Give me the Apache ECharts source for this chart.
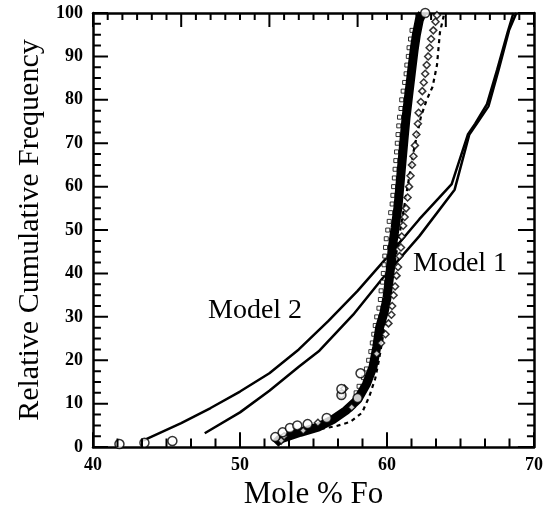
<!DOCTYPE html>
<html>
<head>
<meta charset="utf-8">
<script src="https://cdn.jsdelivr.net/npm/echarts@6/dist/echarts.min.js"></script>
<style>html,body{margin:0;padding:0;background:#fff;}#c{width:554px;height:515px;}</style>
</head>
<body>
<div id="c"></div>
<script>
// axis tick values
const xTicks = [40, 50, 60, 70];            // labelled bottom ticks
const xTopMajor = [40, 46, 52, 58, 64, 70]; // long ticks on the top frame
const yTicks = [0, 10, 20, 30, 40, 50, 60, 70, 80, 90, 100];

// Model 2 curve (upper-left)
const model2 = [[43.4,1.5],[46,5.5],[48,9],[50,12.8],[52,17],[54,22.5],[56,29],[58,36],[60,43.7],[62.2,52.5],[64.4,60.6],[65.5,72],[66.0,74.5],[66.8,79],[67.5,87],[68.2,95.5],[68.6,100]];
// Model 1 curve
const model1 = [[47.6,3.2],[50,8],[52,13],[54,18.5],[55.4,22.2],[57.7,30.5],[59.7,38.9],[62.2,48.6],[64.6,59.3],[65.6,72],[66.1,74.5],[66.9,78.5],[67.6,87],[68.3,96],[68.8,100]];
// dense filled data band
const band = [[52.4,0.8],[52.7,1.8],[54.1,3.4],[55.3,4.6],[56.3,6.3],[57.2,8.4],[58.0,10.9],[58.6,14.5],[59.05,18.5],[59.3,23],[59.5,27.6],[59.8,31],[60.0,34.4],[60.2,40],[60.35,45.7],[60.55,50.5],[60.75,55.4],[60.95,63],[61.15,70.6],[61.3,76],[61.45,80.3],[61.65,86],[61.85,91.6],[62.0,95],[62.2,98.4],[62.4,100]];
// open squares
const squares = [[57.9,12.5],[58.1,14],[58.4,16],[58.6,18],[58.75,20],[58.9,22],[59.0,24],[59.1,26],[59.2,28],[59.3,30],[59.45,32],[59.55,34],[59.6,36],[59.7,38],[59.75,40],[59.8,42],[59.85,44],[59.9,46],[59.95,48],[60.05,50],[60.15,52],[60.25,54],[60.35,56],[60.4,58],[60.45,60],[60.5,62],[60.55,64],[60.6,66],[60.65,68],[60.7,70],[60.75,72],[60.8,74],[60.85,76],[60.95,78],[61.0,80],[61.1,82],[61.2,84],[61.3,86],[61.35,88],[61.45,90],[61.5,92],[61.6,94],[61.7,96]];
// open diamonds
const diamonds = [[52.8,1.5],[53.0,2.5],[54.3,3.8],[55.3,5.6],[56.9,12],[57.1,13.5],[57.6,9.2],[59.3,21.5],[59.6,24],[59.9,26],[60.1,28.5],[60.3,30.5],[60.35,32.5],[60.45,35],[60.55,37],[60.65,39.5],[60.75,41.5],[60.85,44],[60.95,46],[61.0,48.5],[61.1,51],[61.2,53],[61.3,55],[61.4,57.5],[61.5,60],[61.6,62.5],[61.7,65],[61.8,67],[61.9,69.5],[62.0,72],[62.1,74.5],[62.15,77],[62.3,79.5],[62.4,82],[62.5,84],[62.6,86],[62.7,88],[62.8,90],[62.9,92],[63.0,94],[63.15,96],[63.3,98],[63.4,99.5]];
// open circles
const circles = [[41.8,0.7],[43.5,1.0],[45.4,1.4],[52.4,2.3],[52.9,3.4],[53.4,4.4],[53.9,5],[54.6,5.3],[55.9,6.7],[56.9,12],[56.9,13.4],[58.0,11.3],[58.2,17],[62.6,100]];
// dashed curve
const dashed = [[55.5,4.2],[56.5,4.8],[57.5,5.8],[58.3,7.9],[58.8,11.7],[59.2,15.8],[59.45,20],[59.7,25],[60.0,32],[60.4,40],[60.8,48],[61.3,58],[61.8,68],[62.3,76],[62.7,80],[63.1,83],[63.4,88],[63.6,95.5],[63.9,100]];

const FONT = '"Liberation Serif", "Times New Roman", serif';
const X0 = xTicks[0], X1 = xTicks[xTicks.length-1];
const Y0 = yTicks[0], Y1 = yTicks[yTicks.length-1];

// inward frame ticks as short broken line segments (lengths in axis units)
const tickSegs = [];
function seg(a, b) { tickSegs.push(a, b, null); }
for (let i = 0; i < xTicks.length; i++) {
  seg([xTicks[i], Y0], [xTicks[i], Y0 + 3.4]);
  if (i < xTicks.length - 1) {
    const step = (xTicks[i+1] - xTicks[i]) / 6;
    for (let k = 1; k < 6; k++) seg([xTicks[i] + k*step, Y0], [xTicks[i] + k*step, Y0 + 2.0]);
  }
}
for (let i = 0; i < xTopMajor.length; i++) {
  seg([xTopMajor[i], Y1], [xTopMajor[i], Y1 - 3.2]);
  if (i < xTopMajor.length - 1) {
    const step = (xTopMajor[i+1] - xTopMajor[i]) / 6;
    for (let k = 1; k < 6; k++) seg([xTopMajor[i] + k*step, Y1], [xTopMajor[i] + k*step, Y1 - 1.6]);
  }
}
for (let i = 0; i < yTicks.length; i++) {
  seg([X0, yTicks[i]], [X0 + 1.02, yTicks[i]]);
  seg([X1, yTicks[i]], [X1 - 1.09, yTicks[i]]);
  if (i < yTicks.length - 1) {
    const step = (yTicks[i+1] - yTicks[i]) / 4;
    for (let k = 1; k < 4; k++) {
      seg([X0, yTicks[i] + k*step], [X0 + 0.54, yTicks[i] + k*step]);
      seg([X1, yTicks[i] + k*step], [X1 - 0.48, yTicks[i] + k*step]);
    }
  }
}

const chart = echarts.init(document.getElementById('c'), null, {renderer: 'canvas'});
const axisLineStyle = {color: '#000', width: 2.5};
function frameAxis(pos, min, max, interval, showLabel, margin) {
  return {
    type: 'value', position: pos, min: min, max: max, interval: interval,
    axisLine: {show: true, onZero: false, lineStyle: axisLineStyle},
    axisTick: {show: false}, minorTick: {show: false},
    splitLine: {show: false}, minorSplitLine: {show: false},
    axisLabel: {show: showLabel, color: '#000', fontFamily: FONT, fontWeight: 'bold', fontSize: 18, margin: margin}
  };
}
const xb = frameAxis('bottom', X0, X1, 10, true, 9);
xb.name = 'Mole % Fo'; xb.nameLocation = 'middle'; xb.nameGap = 26;
xb.nameTextStyle = {fontFamily: FONT, fontSize: 31, color: '#000'};
const xt = frameAxis('top', X0, X1, 10, false, 8);
const yl = frameAxis('left', Y0, Y1, 10, true, 10);
yl.name = 'Relative Cumulative Frequency'; yl.nameLocation = 'middle'; yl.nameGap = 45;
yl.nameTextStyle = {fontFamily: FONT, fontSize: 30, color: '#000'};
const yr = frameAxis('right', Y0, Y1, 10, false, 8);

chart.setOption({
  animation: false,
  backgroundColor: '#fff',
  grid: {left: 93, right: 20, top: 13, bottom: 60, containLabel: false},
  xAxis: [xb, xt],
  yAxis: [yl, yr],
  series: [
    {type: 'line', data: tickSegs, showSymbol: false, connectNulls: false, clip: false, silent: true, lineStyle: {color: '#000', width: 2}, z: 8},
    {type: 'line', data: model2, showSymbol: false, lineStyle: {color: '#000', width: 2.5}, z: 3},
    {type: 'line', data: model1, showSymbol: false, lineStyle: {color: '#000', width: 2.5}, z: 3},
    {type: 'line', data: dashed, showSymbol: false, lineStyle: {color: '#000', width: 2.2, type: [4, 4]}, z: 3},
    {type: 'scatter', data: squares, symbol: 'rect', symbolSize: 4, itemStyle: {color: '#fff', borderColor: '#000', borderWidth: 1}, z: 4},
    {type: 'line', data: band, showSymbol: false, lineStyle: {color: '#000', width: 9}, z: 5},
    {type: 'scatter', data: diamonds, symbol: 'diamond', symbolSize: 7, itemStyle: {color: '#fff', borderColor: '#000', borderWidth: 1.5}, z: 6},
    {type: 'scatter', data: circles, symbol: 'circle', symbolSize: 9, itemStyle: {color: '#fff', borderColor: '#000', borderWidth: 1.5}, z: 6}
  ],
  graphic: [
    {type: 'text', left: 208, top: 297, style: {text: 'Model 2', font: '28px ' + FONT, fill: '#000'}},
    {type: 'text', left: 413, top: 250, style: {text: 'Model 1', font: '28px ' + FONT, fill: '#000'}}
  ]
});
</script>
</body>
</html>
